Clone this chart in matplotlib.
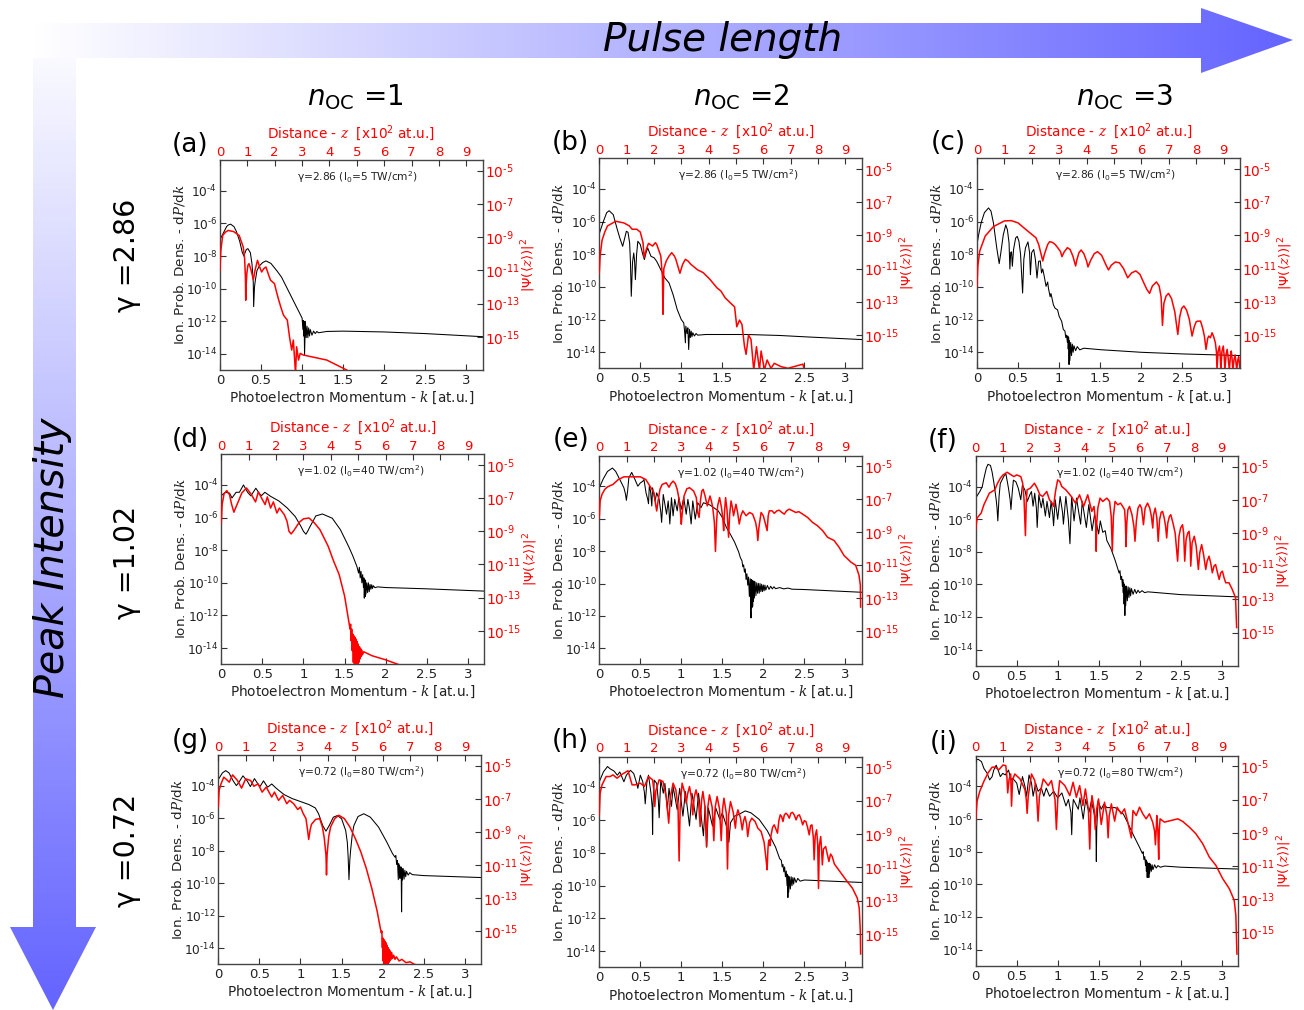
import numpy as np
import matplotlib
matplotlib.use("Agg")
import matplotlib.pyplot as plt
from matplotlib.path import Path
from matplotlib.patches import PathPatch

plt.rcParams['font.family'] = 'DejaVu Sans'
plt.rcParams['mathtext.fontset'] = 'custom'
plt.rcParams['mathtext.rm'] = 'DejaVu Sans'
plt.rcParams['mathtext.it'] = 'DejaVu Serif:italic'
plt.rcParams['mathtext.bf'] = 'DejaVu Sans:bold'

W, H = 1304, 1010

# values are (k, log10 dP/dk) for black and (z, log10 |psi|^2) for red
a_black = [(0,-7.0),(.05,-6.5),(.08,-6.2),(.1,-6.1),(.13,-6.05),(.17,-6.2),(.2,-6.5),(.24,-7.1),(.27,-7.75),(.29,-8.0),(.32,-7.6),(.34,-7.55),(.37,-7.8),(.39,-8.5),(.405,-9.6),(.41,-11.1),(.42,-9.9),(.43,-9.5),(.45,-8.9),(.48,-8.6),(.52,-8.4),(.56,-8.3),(.62,-8.45),(.7,-8.95),(.75,-9.3),(.8,-9.8),(.85,-10.3),(.9,-10.8),(.95,-11.3),(.98,-11.6),(1.0,-11.8),(1.01,-12.5),(1.015,-11.95),(1.02,-12.9),(1.025,-12.0),(1.03,-14.05),(1.04,-12.0),(1.05,-13.0),(1.06,-12.3),(1.07,-13.0),(1.08,-12.4),(1.09,-12.9),(1.1,-12.5),(1.12,-12.85),(1.14,-12.6),(1.16,-12.75),(1.18,-12.62),(1.2,-12.7),(1.3,-12.62),(1.5,-12.6),(2,-12.65),(2.5,-12.75),(3.2,-12.94)]
a_red = [(0,-11.0),(.03,-9.8),(.1,-8.9),(.2,-8.7),(.3,-8.6),(.5,-8.67),(.7,-8.9),(.85,-9.6),(.9,-10.3),(.93,-11.5),(.94,-12.8),(.96,-11.8),(.98,-11.2),(1.02,-10.7),(1.06,-10.6),(1.12,-10.9),(1.22,-11.55),(1.28,-11.0),(1.37,-10.4),(1.45,-10.8),(1.52,-11.1),(1.6,-10.9),(1.68,-10.8),(1.78,-11.3),(1.85,-11.6),(1.99,-11.8),(2.05,-12.2),(2.13,-12.7),(2.22,-13.2),(2.32,-13.7),(2.46,-14.0),(2.54,-15.0),(2.62,-15.8),(2.68,-15.2),(2.76,-17.2),(2.8,-15.6),(2.87,-16.4),(2.93,-16.0),(3.05,-16.1),(3.9,-16.4),(4.63,-17.0)]

b_black = [(0,-6.73),(.05,-5.98),(.09,-5.45),(.12,-5.33),(.17,-5.57),(.22,-6.49),(.25,-7.0),(.285,-7.51),(.31,-7.0),(.33,-6.59),(.35,-6.65),(.37,-7.3),(.38,-8.5),(.39,-10.57),(.405,-8.5),(.42,-7.92),(.43,-8.4),(.44,-9.55),(.455,-8.0),(.47,-7.2),(.5,-7.4),(.53,-8.0),(.55,-8.32),(.57,-7.9),(.59,-7.61),(.63,-8.12),(.67,-8.22),(.7,-8.43),(.75,-8.94),(.8,-9.45),(.85,-9.75),(.9,-10.47),(.95,-11.38),(1,-12.0),(1.03,-12.2),(1.04,-12.7),(1.05,-13.42),(1.055,-12.4),(1.07,-12.85),(1.08,-12.5),(1.09,-13.83),(1.1,-12.6),(1.11,-13.1),(1.12,-12.7),(1.13,-13.05),(1.14,-12.8),(1.16,-13.0),(1.18,-12.85),(1.2,-12.95),(1.3,-12.91),(1.8,-12.91),(2.2,-12.97),(2.5,-13.05),(3.2,-13.22)]
b_red = [(0,-11.25),(.03,-10.24),(.1,-9.3),(.2,-8.8),(.3,-8.43),(.6,-8.15),(.9,-8.25),(1.1,-8.43),(1.2,-8.63),(1.37,-8.63),(1.5,-8.8),(1.6,-9.44),(1.64,-10.34),(1.72,-9.84),(1.8,-9.48),(1.95,-9.64),(2.05,-9.44),(2.1,-9.54),(2.25,-10.24),(2.31,-11.5),(2.33,-13.75),(2.36,-11.0),(2.45,-10.54),(2.55,-10.25),(2.65,-10.04),(2.75,-10.25),(2.8,-10.44),(2.9,-11.0),(2.95,-11.28),(3.0,-11.0),(3.05,-10.74),(3.15,-10.44),(3.25,-10.55),(3.35,-10.74),(3.6,-11.08),(3.8,-11.24),(4.05,-11.65),(4.3,-12.15),(4.45,-12.35),(4.6,-12.75),(4.85,-13.15),(4.95,-13.3),(5.03,-14.5),(5.13,-14.1),(5.22,-14.36),(5.31,-15.66),(5.37,-16.16),(5.46,-15.0),(5.55,-15.26),(5.65,-17.1),(5.75,-15.7),(5.86,-17.1),(5.92,-15.96),(6.04,-17.1),(6.14,-16.5),(6.28,-17.0),(6.4,-16.7),(6.65,-16.9),(6.9,-17.0),(7.45,-16.75),(7.5,-17.1)]

c_black = [(0,-7.4),(.02,-6.8),(.05,-6.08),(.09,-5.45),(.14,-5.16),(.17,-5.35),(.2,-6.08),(.24,-7.6),(.27,-8.57),(.29,-7.9),(.32,-6.8),(.35,-6.2),(.37,-6.5),(.39,-7.3),(.4,-8.9),(.41,-7.88),(.42,-7.85),(.43,-8.73),(.445,-7.7),(.47,-7.0),(.49,-6.9),(.51,-7.2),(.53,-8.0),(.555,-10.37),(.57,-8.3),(.59,-7.6),(.62,-7.24),(.64,-7.9),(.65,-9.25),(.665,-7.9),(.69,-7.7),(.71,-8.3),(.73,-9.45),(.75,-8.43),(.77,-8.4),(.785,-9.14),(.8,-8.9),(.82,-9.4),(.84,-9.96),(.86,-9.7),(.87,-10.1),(.89,-10.6),(.9,-10.4),(.93,-11.1),(.95,-11.3),(.98,-11.4),(1.0,-11.8),(1.03,-12.1),(1.05,-12.6),(1.07,-12.7),(1.08,-13.1),(1.09,-12.95),(1.1,-13.4),(1.105,-13.0),(1.11,-13.8),(1.115,-13.1),(1.12,-14.75),(1.125,-13.3),(1.13,-14.5),(1.14,-13.4),(1.15,-14.2),(1.16,-13.5),(1.17,-14.0),(1.18,-13.6),(1.2,-13.9),(1.22,-13.65),(1.25,-13.85),(1.3,-13.75),(1.5,-13.84),(2,-14.0),(2.5,-14.1),(3.2,-14.2)]
c_red = [(0,-12.05),(.03,-10.84),(.1,-9.94),(.3,-9.04),(.6,-8.47),(1,-8.13),(1.25,-8.11),(1.5,-8.25),(1.7,-8.53),(2,-8.94),(2.15,-9.14),(2.25,-9.54),(2.35,-10.2),(2.4,-10.54),(2.45,-10.2),(2.5,-9.94),(2.58,-9.55),(2.65,-9.38),(2.75,-9.42),(2.85,-9.54),(2.95,-9.75),(3.05,-9.98),(3.1,-10.28),(3.18,-10.0),(3.3,-9.74),(3.4,-9.85),(3.5,-10.25),(3.6,-10.84),(3.65,-10.44),(3.72,-10.05),(3.8,-9.88),(3.9,-10.1),(4.0,-10.54),(4.05,-10.9),(4.15,-10.5),(4.28,-10.1),(4.4,-9.98),(4.55,-10.2),(4.7,-10.75),(4.8,-11.08),(4.9,-10.8),(5.05,-10.6),(5.2,-10.65),(5.35,-11.0),(5.5,-11.55),(5.65,-11.25),(5.8,-11.14),(5.95,-11.35),(6.1,-11.9),(6.2,-12.25),(6.3,-12.49),(6.4,-12.05),(6.55,-11.8),(6.65,-12.05),(6.72,-12.7),(6.77,-14.42),(6.82,-13.1),(6.9,-12.65),(6.99,-12.49),(7.1,-12.8),(7.22,-13.6),(7.33,-14.96),(7.4,-13.9),(7.47,-13.4),(7.55,-13.25),(7.65,-13.5),(7.75,-14.05),(7.85,-15.06),(7.93,-14.5),(8.0,-14.2),(8.06,-14.16),(8.16,-14.16),(8.24,-14.6),(8.3,-15.06),(8.36,-15.86),(8.42,-15.2),(8.46,-15.06),(8.52,-15.16),(8.58,-14.86),(8.64,-15.1),(8.7,-15.46),(8.74,-16.0),(8.76,-17.1),(8.8,-16.0),(8.85,-15.66),(8.88,-16.2),(8.9,-17.1),(8.94,-16.0),(8.99,-15.66),(9.02,-16.2),(9.05,-17.1),(9.09,-16.2),(9.13,-15.86),(9.17,-16.4),(9.21,-17.1),(9.25,-16.3),(9.28,-15.96),(9.31,-16.4),(9.34,-17.1),(9.38,-16.5),(9.42,-16.2),(9.45,-16.6),(9.48,-17.1),(9.52,-16.5),(9.55,-16.3),(9.58,-16.7),(9.6,-17.1)]

d_black = [(0,-4.65),(.05,-4.45),(.1,-4.5),(.13,-4.8),(.18,-4.45),(.22,-4.45),(.27,-4.0),(.32,-4.45),(.36,-4.67),(.42,-4.2),(.47,-4.57),(.49,-4.65),(.53,-4.45),(.6,-4.7),(.7,-4.98),(.8,-5.4),(.9,-5.94),(.97,-6.55),(1.0,-6.85),(1.03,-7.02),(1.05,-6.85),(1.08,-6.55),(1.15,-5.9),(1.23,-5.78),(1.35,-6.04),(1.45,-6.75),(1.55,-7.78),(1.6,-8.35),(1.65,-9.0),(1.67,-9.4),(1.68,-9.05),(1.69,-9.7),(1.7,-9.3),(1.71,-10.0),(1.72,-9.5),(1.73,-10.3),(1.735,-9.7),(1.74,-10.94),(1.745,-9.8),(1.75,-10.85),(1.755,-9.85),(1.76,-10.7),(1.77,-10.0),(1.78,-10.6),(1.79,-10.0),(1.8,-10.55),(1.81,-10.1),(1.82,-10.4),(1.83,-10.12),(1.84,-10.35),(1.85,-10.18),(1.87,-10.3),(1.9,-10.25),(2,-10.29),(2.5,-10.37),(3.2,-10.51)]
d_red = [(0,-8.49),(.03,-7.39),(.1,-6.75),(.2,-6.55),(.3,-6.8),(.38,-7.4),(.46,-7.85),(.52,-7.6),(.6,-7.29),(.75,-6.69),(.92,-6.39),(1.1,-6.79),(1.25,-7.23),(1.35,-6.63),(1.5,-7.09),(1.6,-7.39),(1.68,-6.93),(1.8,-7.6),(1.9,-7.23),(2.03,-7.9),(2.12,-7.6),(2.3,-8.0),(2.4,-8.4),(2.47,-9.0),(2.55,-9.16),(2.65,-8.95),(2.75,-8.7),(2.85,-8.45),(3,-8.25),(3.2,-8.2),(3.4,-8.5),(3.6,-8.9),(3.9,-9.9),(4.1,-10.8),(4.3,-11.6),(4.5,-12.9),(4.65,-14.4),(4.7,-14.9),(4.72,-14.6),(4.74,-15.6),(4.76,-14.9),(4.78,-16.2),(4.8,-15.2),(4.82,-16.9),(4.84,-15.3),(4.86,-17.05),(4.88,-15.4),(4.9,-17.05),(4.92,-15.5),(4.94,-17.05),(4.96,-15.65),(4.98,-17.05),(5.0,-15.8),(5.02,-16.9),(5.04,-15.95),(5.06,-16.7),(5.08,-16.05),(5.1,-16.55),(5.12,-16.15),(5.15,-16.45),(5.2,-16.26),(5.5,-16.5),(6,-16.75),(6.5,-17.05)]

e_black = [(0,-4.1),(.05,-3.53),(.1,-3.09),(.16,-2.88),(.2,-3.09),(.25,-3.59),(.3,-4.1),(.32,-4.5),(.33,-4.87),(.345,-4.3),(.36,-3.49),(.395,-3.15),(.43,-3.53),(.47,-4),(.5,-3.8),(.53,-3.7),(.545,-3.59),(.57,-4.41),(.59,-4.8),(.6,-5.08),(.61,-4),(.625,-4.3),(.64,-5.22),(.65,-4.1),(.68,-4.91),(.7,-4.41),(.73,-4.81),(.75,-5.6),(.76,-6.23),(.78,-4.51),(.82,-5.73),(.84,-4.91),(.85,-5.5),(.86,-6.33),(.88,-4.71),(.9,-5.83),(.92,-4.81),(.95,-5.52),(.97,-4.71),(1,-5.42),(1.03,-4.71),(1.06,-5.73),(1.08,-4.81),(1.1,-5.4),(1.12,-6.33),(1.14,-4.91),(1.17,-6.03),(1.2,-5.02),(1.24,-5.32),(1.27,-5.02),(1.35,-5.16),(1.45,-5.52),(1.5,-5.93),(1.55,-6.54),(1.6,-6.98),(1.65,-7.45),(1.7,-8.06),(1.72,-8.4),(1.74,-8.6),(1.75,-8.97),(1.76,-8.85),(1.77,-9.3),(1.78,-9.1),(1.79,-9.75),(1.8,-9.4),(1.81,-10.1),(1.82,-9.6),(1.83,-10.8),(1.84,-9.7),(1.845,-11.2),(1.85,-12.12),(1.855,-9.75),(1.86,-11.5),(1.865,-9.8),(1.87,-11.41),(1.875,-9.85),(1.88,-11.1),(1.885,-9.85),(1.89,-10.9),(1.9,-9.9),(1.91,-10.75),(1.92,-9.95),(1.93,-10.6),(1.94,-9.99),(1.95,-10.6),(1.96,-10.0),(1.97,-10.5),(1.98,-10.05),(1.99,-10.5),(2,-10.09),(2.01,-10.45),(2.02,-10.1),(2.03,-10.4),(2.05,-10.12),(2.07,-10.36),(2.09,-10.17),(2.11,-10.33),(2.13,-10.2),(2.15,-10.32),(2.2,-10.25),(2.25,-10.33),(2.3,-10.28),(2.35,-10.35),(2.5,-10.37),(3.2,-10.54)]
e_red = [(0,-8.11),(.03,-7.1),(.1,-6.7),(.2,-6.4),(.3,-6.25),(.5,-6.1),(.7,-5.8),(.9,-5.64),(1.2,-5.64),(1.5,-5.64),(1.7,-5.8),(1.85,-6.2),(2,-6.6),(2.05,-7.2),(2.1,-7.71),(2.15,-7.1),(2.22,-6.4),(2.3,-6.1),(2.45,-6.0),(2.55,-6.27),(2.62,-6.05),(2.7,-5.9),(2.78,-6.05),(2.85,-6.4),(2.92,-7.0),(2.97,-7.8),(3,-8.51),(3.03,-7.9),(3.1,-6.8),(3.2,-6.37),(3.3,-6.3),(3.45,-6.5),(3.55,-6.9),(3.6,-7.8),(3.65,-8.1),(3.7,-7.1),(3.75,-6.5),(3.8,-6.4),(3.87,-6.8),(3.95,-7.4),(4.05,-6.8),(4.1,-7.1),(4.15,-7.5),(4.21,-8.4),(4.25,-10.16),(4.29,-8.4),(4.33,-7.4),(4.4,-6.9),(4.47,-7.5),(4.52,-8.2),(4.55,-8.9),(4.58,-7.8),(4.62,-6.9),(4.67,-7.6),(4.73,-9.3),(4.77,-7.9),(4.82,-7.1),(4.87,-7.5),(4.91,-8.0),(5,-7.3),(5.06,-7.8),(5.12,-8.5),(5.18,-8.0),(5.25,-7.7),(5.37,-8),(5.5,-7.8),(5.61,-7.9),(5.72,-8.4),(5.77,-8.9),(5.8,-9.5),(5.84,-8.7),(5.92,-7.8),(6.0,-8.0),(6.08,-8.5),(6.14,-8.9),(6.18,-8.0),(6.22,-7.7),(6.32,-7.7),(6.4,-7.85),(6.5,-7.7),(6.58,-7.66),(6.68,-7.8),(6.77,-7.9),(6.85,-7.7),(6.95,-7.6),(7.07,-7.7),(7.19,-7.8),(7.3,-7.75),(7.44,-7.9),(7.62,-8.1),(7.8,-8.4),(7.98,-8.6),(8.17,-8.9),(8.35,-9.3),(8.59,-9.5),(8.77,-9.9),(8.95,-10.4),(9.2,-10.8),(9.38,-11.0),(9.5,-11.6),(9.55,-12.2),(9.56,-13.53)]

f_black = [(0,-4.7),(.05,-4.3),(.08,-4.0),(.1,-3.5),(.13,-2.85),(.15,-2.63),(.18,-2.7),(.2,-3.1),(.22,-3.7),(.25,-4.8),(.26,-5.3),(.27,-6.1),(.285,-4.6),(.3,-3.8),(.35,-3.3),(.37,-3.25),(.4,-4.1),(.42,-4.8),(.43,-5.4),(.445,-4.4),(.46,-3.6),(.49,-3.7),(.52,-4.1),(.55,-4.8),(.57,-3.9),(.6,-4.2),(.63,-4.9),(.66,-4.5),(.68,-4.3),(.7,-5.2),(.72,-4.4),(.74,-5.3),(.75,-6.5),(.77,-4.5),(.8,-5.3),(.82,-4.7),(.85,-5.8),(.87,-4.9),(.9,-5.9),(.92,-4.9),(.94,-5.7),(.95,-6.4),(.97,-4.8),(1,-6.0),(1.03,-4.6),(1.06,-5.6),(1.07,-6.3),(1.1,-4.6),(1.13,-6.0),(1.15,-7.5),(1.17,-4.6),(1.2,-6.1),(1.23,-4.7),(1.28,-6.3),(1.3,-4.9),(1.35,-6.5),(1.38,-5.1),(1.42,-6.7),(1.45,-5.7),(1.5,-6.9),(1.52,-6.1),(1.55,-6.8),(1.58,-6.7),(1.6,-7.3),(1.65,-7.8),(1.7,-8.5),(1.75,-9.3),(1.76,-9.15),(1.77,-9.7),(1.78,-9.5),(1.79,-10.1),(1.795,-9.7),(1.8,-10.5),(1.805,-9.9),(1.81,-11.2),(1.815,-10.0),(1.82,-11.9),(1.825,-10.1),(1.83,-11.3),(1.84,-10.1),(1.85,-11.0),(1.86,-10.15),(1.87,-10.8),(1.88,-10.2),(1.89,-10.7),(1.9,-10.25),(1.92,-10.6),(1.94,-10.3),(1.96,-10.55),(1.98,-10.35),(2,-10.5),(2.03,-10.38),(2.06,-10.5),(2.1,-10.45),(2.5,-10.62),(3.2,-10.76)]
f_red = [(0,-8.8),(.05,-8.1),(.2,-7.8),(.3,-7.3),(.5,-6.6),(.7,-6.4),(.8,-6.0),(.9,-5.7),(1,-5.5),(1.15,-5.34),(1.3,-5.5),(1.4,-5.6),(1.5,-5.5),(1.65,-5.6),(1.72,-6.0),(1.77,-7.0),(1.82,-9.16),(1.85,-7.2),(1.88,-6.4),(2,-6.3),(2.15,-6.0),(2.25,-6.3),(2.35,-6.7),(2.45,-6.8),(2.6,-6.5),(2.7,-7.0),(2.8,-7.2),(2.85,-7.4),(2.92,-6.5),(3,-5.8),(3.08,-5.9),(3.15,-6.2),(3.3,-6.4),(3.5,-6.8),(3.65,-7.2),(3.8,-6.7),(3.95,-7.4),(4.1,-6.7),(4.25,-7.7),(4.33,-7.4),(4.39,-8.4),(4.41,-10.1),(4.43,-8.4),(4.47,-7.5),(4.55,-6.9),(4.65,-7.1),(4.8,-6.9),(4.9,-7.1),(4.96,-8.0),(5,-10.1),(5.04,-8.0),(5.1,-7.1),(5.2,-7.3),(5.3,-7.2),(5.38,-7.4),(5.45,-7.6),(5.48,-8.4),(5.5,-9.82),(5.53,-8.4),(5.57,-7.6),(5.63,-7.4),(5.72,-7.9),(5.79,-8.6),(5.83,-9.5),(5.88,-8.3),(5.94,-7.5),(6.01,-7.3),(6.07,-7.5),(6.14,-8.5),(6.2,-7.5),(6.29,-7.2),(6.37,-7.5),(6.43,-8.0),(6.48,-8.7),(6.51,-7.9),(6.57,-7.5),(6.63,-8.1),(6.68,-9.5),(6.73,-8.2),(6.79,-7.75),(6.84,-7.7),(6.9,-8.1),(6.95,-8.6),(6.99,-9.3),(7.03,-8.4),(7.09,-8.0),(7.14,-7.9),(7.22,-8.4),(7.3,-9.0),(7.39,-10.7),(7.44,-9.2),(7.5,-8.7),(7.57,-8.5),(7.61,-9.0),(7.65,-10.7),(7.7,-9.4),(7.76,-9.0),(7.81,-8.9),(7.85,-9.6),(7.87,-11.0),(7.92,-9.6),(8,-9.2),(8.07,-9.8),(8.15,-11.2),(8.2,-10.2),(8.27,-9.7),(8.34,-10.3),(8.42,-11.2),(8.47,-10.7),(8.54,-10.4),(8.6,-10.8),(8.66,-11.4),(8.72,-11.0),(8.78,-10.9),(8.85,-11.4),(8.91,-11.8),(8.97,-11.4),(9.03,-11.3),(9.09,-11.7),(9.15,-12.0),(9.27,-12.0),(9.39,-12.4),(9.51,-12.9),(9.55,-14.7)]

g_black = [(0,-3.63),(.05,-3.22),(.09,-3.08),(.13,-3.22),(.18,-3.7),(.22,-4),(.25,-3.8),(.3,-3.4),(.35,-3.7),(.39,-4.06),(.44,-3.57),(.49,-3.96),(.51,-4.04),(.55,-3.71),(.6,-4.1),(.65,-3.9),(.7,-4.14),(.75,-4.35),(.8,-4.55),(.9,-4.8),(1,-4.98),(1.1,-5.16),(1.18,-5.37),(1.22,-5.73),(1.27,-6.45),(1.31,-6.8),(1.35,-6.45),(1.4,-5.94),(1.45,-5.84),(1.5,-6.04),(1.55,-6.76),(1.57,-7.5),(1.58,-8.39),(1.59,-9.78),(1.6,-8.6),(1.61,-7.98),(1.63,-7.0),(1.65,-6.45),(1.7,-5.9),(1.77,-5.73),(1.85,-5.94),(1.95,-6.55),(2.05,-7.47),(2.12,-8.18),(2.15,-8.4),(2.16,-8.3),(2.17,-8.85),(2.18,-8.6),(2.19,-9.78),(2.195,-8.8),(2.2,-9.4),(2.205,-8.9),(2.21,-9.7),(2.215,-9.0),(2.22,-9.5),(2.225,-9.0),(2.23,-11.76),(2.235,-9.1),(2.24,-9.8),(2.25,-9.1),(2.26,-9.75),(2.27,-9.2),(2.28,-9.6),(2.29,-9.27),(2.31,-9.5),(2.33,-9.35),(2.36,-9.47),(2.5,-9.53),(3.2,-9.65)]
g_red = [(0,-7.5),(.03,-6.5),(.1,-6.1),(.2,-5.7),(.3,-5.84),(.4,-6),(.52,-5.56),(.7,-5.9),(.85,-6.36),(1,-5.8),(1.18,-5.9),(1.3,-6.25),(1.45,-6.1),(1.6,-6.6),(1.75,-6.3),(1.95,-6.9),(2.05,-6.6),(2.2,-7.1),(2.35,-6.8),(2.5,-7.3),(2.6,-7.1),(2.75,-7.3),(2.9,-7.65),(3,-7.5),(3.1,-7.9),(3.2,-8.2),(3.25,-8.8),(3.3,-9.46),(3.35,-8.9),(3.4,-8.55),(3.55,-8.25),(3.7,-8.2),(3.8,-8.7),(3.87,-9.4),(3.93,-10.4),(3.95,-11.6),(3.97,-10.4),(4.03,-9.3),(4.1,-8.7),(4.25,-8.2),(4.4,-8),(4.6,-8.2),(4.8,-8.7),(5,-9.4),(5.2,-10.2),(5.4,-11.2),(5.6,-12.4),(5.8,-13.8),(5.9,-14.7),(5.95,-15.1),(5.97,-15.0),(5.99,-16.0),(6,-15.4),(6.02,-16.8),(6.04,-15.5),(6.06,-17),(6.08,-15.6),(6.1,-17),(6.12,-15.7),(6.14,-17),(6.16,-15.85),(6.18,-17),(6.2,-16.0),(6.22,-16.9),(6.24,-16.1),(6.26,-16.8),(6.28,-16.2),(6.3,-16.7),(6.33,-16.3),(6.36,-16.65),(6.4,-16.45),(6.45,-16.7),(6.5,-16.55),(6.6,-16.8),(6.7,-16.7),(6.85,-16.9),(7,-16.85),(7.15,-17.0),(7.3,-17.05)]

h_black = [(0,-3.65),(.05,-3.05),(.1,-2.72),(.13,-2.85),(.18,-3.0),(.22,-3.25),(.25,-3.05),(.3,-3.65),(.33,-3.25),(.38,-2.95),(.42,-3.15),(.45,-3.65),(.47,-4.05),(.5,-3.25),(.53,-3.65),(.55,-4.3),(.56,-5.0),(.58,-3.7),(.6,-3.25),(.63,-4.35),(.645,-5.2),(.65,-6.86),(.655,-5.0),(.67,-3.55),(.7,-3.75),(.72,-4.8),(.73,-5.85),(.74,-4.6),(.75,-3.55),(.78,-4.35),(.8,-3.75),(.83,-5.35),(.85,-4.05),(.88,-5.15),(.9,-3.95),(.95,-5.35),(.98,-4.05),(1.02,-5.75),(1.05,-4.25),(1.1,-6.35),(1.13,-4.35),(1.18,-5.95),(1.21,-4.35),(1.27,-6.95),(1.29,-5.15),(1.31,-7.65),(1.33,-5.25),(1.38,-6.35),(1.42,-5.25),(1.47,-5.95),(1.5,-5.55),(1.55,-6.35),(1.58,-7.35),(1.6,-6.15),(1.65,-5.75),(1.7,-5.65),(1.78,-5.43),(1.85,-5.55),(1.95,-5.95),(2.05,-6.65),(2.15,-7.65),(2.2,-8.35),(2.22,-8.45),(2.23,-8.85),(2.24,-8.7),(2.25,-9.15),(2.26,-8.85),(2.27,-9.45),(2.28,-9.1),(2.29,-10.0),(2.295,-9.3),(2.3,-10.72),(2.305,-9.4),(2.31,-10.4),(2.32,-9.45),(2.33,-10.2),(2.34,-9.45),(2.35,-10.0),(2.36,-9.5),(2.37,-9.9),(2.38,-9.52),(2.4,-9.8),(2.42,-9.55),(2.45,-9.72),(2.5,-9.65),(3.2,-9.8)]
h_red = [(0,-7.85),(.03,-6.55),(.1,-6.05),(.25,-5.55),(.4,-5.55),(.5,-5.45),(.65,-5.65),(.8,-5.45),(1,-5.25),(1.05,-5.2),(1.2,-6.05),(1.3,-6.05),(1.5,-5.95),(1.65,-6.15),(1.8,-5.55),(1.95,-5.75),(2.0,-6.4),(2.03,-7.35),(2.07,-6.4),(2.19,-5.75),(2.33,-5.85),(2.45,-6.8),(2.54,-8.35),(2.6,-6.8),(2.7,-5.95),(2.8,-6.35),(2.88,-7.4),(2.92,-10.62),(2.96,-7.3),(3.03,-5.95),(3.12,-6.5),(3.18,-7.15),(3.23,-6.6),(3.3,-6.15),(3.37,-6.8),(3.42,-7.85),(3.47,-6.8),(3.54,-6.35),(3.63,-7.0),(3.69,-8.55),(3.74,-7.0),(3.79,-6.45),(3.87,-7.4),(3.92,-9.75),(3.97,-7.4),(4.03,-6.65),(4.13,-7.4),(4.19,-9.4),(4.24,-7.4),(4.31,-6.75),(4.4,-7.5),(4.46,-9.4),(4.51,-7.5),(4.56,-6.85),(4.65,-7.8),(4.69,-11.1),(4.73,-7.9),(4.8,-7.05),(4.9,-7.7),(4.98,-8.65),(5.02,-7.9),(5.07,-7.55),(5.16,-8.0),(5.23,-8.75),(5.28,-8.2),(5.33,-7.95),(5.39,-8.4),(5.43,-9.15),(5.5,-8.3),(5.58,-8.05),(5.7,-8.25),(5.8,-8.65),(5.92,-8.85),(6.03,-9.5),(6.1,-10.5),(6.14,-11.15),(6.17,-9.9),(6.19,-9.5),(6.22,-9.35),(6.25,-9.7),(6.28,-9.1),(6.34,-8.6),(6.4,-8.45),(6.46,-8.7),(6.52,-8.95),(6.57,-8.2),(6.62,-7.85),(6.67,-7.95),(6.72,-8.25),(6.77,-7.85),(6.83,-7.75),(6.89,-7.85),(6.95,-8.05),(7.01,-7.75),(7.07,-7.7),(7.13,-7.85),(7.2,-8.15),(7.26,-7.9),(7.32,-7.85),(7.38,-8.1),(7.44,-8.45),(7.5,-8.2),(7.56,-8.25),(7.62,-8.6),(7.68,-9.05),(7.73,-8.5),(7.78,-8.45),(7.83,-9.2),(7.86,-10.55),(7.9,-9.1),(7.95,-8.75),(7.99,-9.6),(8.02,-12.27),(8.05,-9.7),(8.1,-9.15),(8.13,-9.9),(8.16,-10.85),(8.2,-9.9),(8.28,-9.75),(8.34,-10.2),(8.4,-10.65),(8.46,-10.2),(8.52,-10.35),(8.6,-10.8),(8.71,-11.05),(8.89,-11.45),(9.07,-11.85),(9.26,-12.25),(9.44,-12.85),(9.51,-13.45),(9.55,-14.85),(9.56,-16.2)]

i_black = [(0,-2.38),(.03,-2.34),(.07,-2.48),(.1,-2.9),(.14,-3.2),(.17,-3.6),(.2,-3.4),(.22,-3.0),(.25,-2.7),(.28,-3.1),(.3,-3.4),(.33,-3.2),(.36,-3.3),(.4,-3.0),(.43,-3.6),(.45,-3.5),(.5,-3.8),(.53,-4.5),(.57,-3.4),(.6,-4),(.62,-4.6),(.65,-3.3),(.68,-3.8),(.7,-4.6),(.73,-3.8),(.76,-4.3),(.8,-4.1),(.83,-4.6),(.86,-4.1),(.9,-4.6),(.95,-4.3),(1,-4.7),(1.05,-4.4),(1.1,-5.2),(1.13,-4.8),(1.16,-5.6),(1.17,-6.96),(1.18,-5.4),(1.19,-4.8),(1.25,-5.4),(1.27,-4.7),(1.31,-6),(1.34,-4.8),(1.38,-5.6),(1.41,-4.9),(1.45,-5.8),(1.465,-6.6),(1.47,-8.6),(1.475,-6.6),(1.49,-4.9),(1.53,-5.4),(1.56,-5.1),(1.6,-5.3),(1.7,-5.3),(1.8,-5.7),(1.85,-6.2),(1.92,-6.96),(2,-7.77),(2.03,-8.1),(2.04,-8.0),(2.05,-8.48),(2.06,-8.3),(2.07,-8.85),(2.075,-8.5),(2.08,-9.2),(2.085,-8.6),(2.09,-9.58),(2.095,-8.7),(2.1,-9.5),(2.105,-8.75),(2.11,-9.58),(2.115,-8.7),(2.12,-9.3),(2.13,-8.75),(2.14,-9.2),(2.15,-8.8),(2.16,-9.1),(2.18,-8.8),(2.2,-9.0),(2.22,-8.85),(2.25,-8.95),(2.3,-8.88),(2.5,-8.95),(3,-9.03),(3.2,-9.06)]
i_red = [(0,-8.2),(.05,-7.1),(.15,-6.5),(.3,-5.9),(.45,-5.4),(.6,-5.05),(.7,-5.05),(.85,-5.2),(1,-4.92),(1.1,-4.96),(1.14,-5.6),(1.17,-6.6),(1.22,-5.8),(1.28,-5.46),(1.31,-7.4),(1.35,-5.8),(1.43,-5.46),(1.62,-5.76),(1.8,-6.4),(1.85,-7.0),(1.88,-7.83),(1.92,-6.8),(2.04,-5.46),(2.16,-5.86),(2.23,-6.8),(2.28,-8.3),(2.33,-6.8),(2.47,-5.76),(2.65,-6.16),(2.77,-5.86),(2.9,-7.0),(2.95,-8.8),(3.0,-7.0),(3.07,-5.86),(3.26,-6.16),(3.44,-6.76),(3.56,-5.96),(3.68,-6.86),(3.8,-6.16),(3.92,-7.36),(4.01,-6.36),(4.12,-7.6),(4.17,-9.98),(4.21,-7.6),(4.25,-6.76),(4.33,-7.6),(4.37,-8.8),(4.42,-7.6),(4.49,-6.96),(4.59,-8.5),(4.71,-7.16),(4.8,-8.0),(4.84,-9.3),(4.88,-8.0),(4.96,-7.26),(5.08,-8.3),(5.17,-7.46),(5.32,-7.86),(5.44,-7.56),(5.56,-8.36),(5.69,-9.3),(5.75,-7.66),(5.87,-7.96),(5.99,-7.46),(6.11,-7.86),(6.23,-8.16),(6.35,-7.86),(6.47,-8.36),(6.54,-8.9),(6.57,-9.72),(6.6,-8.8),(6.62,-7.96),(6.66,-8.9),(6.69,-10.6),(6.71,-8.9),(6.74,-8.16),(6.9,-8.36),(7.14,-8.26),(7.39,-8.16),(7.57,-8.32),(7.81,-8.66),(8.05,-9.06),(8.3,-9.66),(8.54,-10.46),(8.78,-10.96),(9.03,-11.76),(9.27,-12.36),(9.45,-13.06),(9.51,-13.96),(9.55,-16.3)]

black_series = [a_black, b_black, c_black, d_black, e_black, f_black, g_black, h_black, i_black]
red_series = [a_red, b_red, c_red, d_red, e_red, f_red, g_red, h_red, i_red]

letters = ['a', 'b', 'c', 'd', 'e', 'f', 'g', 'h', 'i']
panel_titles = ['γ=2.86 (I$_0$=5 TW/cm$^2$)'] * 3 + ['γ=1.02 (I$_0$=40 TW/cm$^2$)'] * 3 + ['γ=0.72 (I$_0$=80 TW/cm$^2$)'] * 3
left_exp = [-14, -12, -10, -8, -6, -4]
right_exp = [-15, -13, -11, -9, -7, -5]
k_ticks = [0, 0.5, 1, 1.5, 2, 2.5, 3]
k_labels = ['0', '0.5', '1', '1.5', '2', '2.5', '3']
z_ticks = [0, 1, 2, 3, 4, 5, 6, 7, 8, 9]
col_labels = [1, 2, 3]
gamma_labels = ['2.86', '1.02', '0.72']

# axes boxes in pixels: x0, x1, top, bottom
boxes = [(220, 482.7, 160, 370), (599.3, 861.7, 158.3, 368.3), (977, 1240, 158.3, 368.3),
         (221.3, 484.3, 454.3, 664), (599.3, 861.7, 455.7, 664.3), (975.7, 1238, 456, 665.7),
         (218.3, 481.3, 755, 964.3), (599.3, 861.7, 756.7, 967.3), (975.7, 1238.3, 755.7, 965.7)]
letter_pos = [(190, 145), (570.7, 143), (948, 143), (190, 440), (570.7, 440), (943, 441), (190.7, 741), (570.7, 741), (944, 743)]
title_x = [357, 738, 1115, 361, 741, 1120, 361.7, 743, 1120]
col_x = [355, 741, 1124]
gamma_y = [255, 562, 850]

fig = plt.figure(figsize=(W / 100, H / 100), dpi=100)
bg = fig.add_axes([0, 0, 1, 1])
bg.set_xlim(0, W)
bg.set_ylim(H, 0)
bg.axis('off')


def px(x, y):
    return x / W, 1 - y / H


def gradient(horizontal):
    n = 256
    t = np.linspace(0, 1, n)
    img = np.ones((n, 1, 3)) if not horizontal else np.ones((1, n, 3))
    shape = (1, n) if horizontal else (n, 1)
    img[..., 0] = (1 - t * 155 / 255).reshape(shape)
    img[..., 1] = (1 - t * 155 / 255).reshape(shape)
    return img


# the two big arrows
im = bg.imshow(gradient(False), extent=(10, 96, 1010, 23), aspect='auto', zorder=1, interpolation='bilinear')
verts = [(33, 23), (76, 23), (76, 927), (96, 927), (53, 1010), (10, 927), (33, 927), (33, 23)]
im.set_clip_path(PathPatch(Path(verts), transform=bg.transData))
im2 = bg.imshow(gradient(True), extent=(33, 1293, 73, 8), aspect='auto', zorder=2, interpolation='bilinear')
verts = [(33, 23), (1201, 23), (1201, 8), (1293, 40), (1201, 73), (1201, 58), (33, 58), (33, 23)]
im2.set_clip_path(PathPatch(Path(verts), transform=bg.transData))
bg.set_xlim(0, W)
bg.set_ylim(H, 0)

fig.text(*px(723, 40), 'Pulse length', fontsize=28, style='oblique', ha='center', va='center')
fig.text(*px(53, 558), 'Peak Intensity', fontsize=28.5, style='oblique', rotation=90, ha='center', va='center')

for n, x in zip(col_labels, col_x):
    fig.text(*px(x, 97), r'$n_{\mathrm{OC}}$ =%d' % n, fontsize=20, ha='center', va='center', math_fontfamily='dejavusans')
for g, y in zip(gamma_labels, gamma_y):
    fig.text(*px(127, y), 'γ =' + g, fontsize=20.5, rotation=90, ha='center', va='center')

for i in range(9):
    x0, x1, top, bottom = boxes[i]
    rect = [x0 / W, 1 - bottom / H, (x1 - x0) / W, (bottom - top) / H]
    ax = fig.add_axes(rect)
    ax.patch.set_alpha(0)
    k, p = np.array(black_series[i]).T
    ax.plot(k, 10.0 ** p, color='black', lw=0.75)
    ax.set_xlim(0, 3.2)
    ax.set_yscale('log')
    ax.set_ylim(10.0 ** -14.98, 10.0 ** -2.12)
    ax.set_xticks(k_ticks)
    ax.set_xticklabels(k_labels)
    ax.set_yticks([10.0 ** e for e in left_exp])
    ax.set_yticklabels([r'$10^{\text{-}%d}$' % -e for e in left_exp])
    ax.minorticks_off()
    ax.tick_params(direction='in', length=4, width=0.8, color='#333333', labelsize=9.5, pad=3, labelcolor='#222222')
    ax.tick_params(axis='y', labelsize=8.8, pad=2)
    ax.set_xlabel(r'Photoelectron Momentum - $k$ [at.u.]', fontsize=9.8, color='#222222')
    ax.xaxis.set_label_coords(0.5, -0.095)
    ax.set_ylabel(r'Ion. Prob. Dens. - d$P$/d$k$', fontsize=9.7, color='#222222')
    ax.yaxis.set_label_coords(-0.125, 0.5)
    for s in ax.spines.values():
        s.set_color('#444444')
        s.set_linewidth(1.0)

    axr = fig.add_axes(rect, frameon=False)
    z, w = np.array(red_series[i]).T
    axr.plot(z, 10.0 ** w, color='red', lw=1.1)
    axr.set_xlim(0, 9.6)
    axr.set_yscale('log')
    axr.set_ylim(10.0 ** -17.0, 10.0 ** -4.36)
    axr.xaxis.tick_top()
    axr.yaxis.tick_right()
    axr.set_xticks(z_ticks)
    axr.set_yticks([10.0 ** e for e in right_exp])
    axr.set_yticklabels([r'$10^{\text{-}%d}$' % -e for e in right_exp])
    axr.minorticks_off()
    axr.tick_params(direction='in', length=4, width=0.8, color='#333333', labelcolor='red', labelsize=9.5, pad=1)
    axr.tick_params(axis='y', labelsize=10, pad=1.5)
    axr.xaxis.set_label_position('top')
    axr.yaxis.set_label_position('right')
    axr.set_xlabel(r'Distance - $z$  [x10$^2$ at.u.]', fontsize=9.85, color='red')
    axr.xaxis.set_label_coords(0.5, 1.105)
    axr.set_ylabel(r'|Ψ($\langle z\rangle$)|$^2$', fontsize=9.5, color='red')
    axr.yaxis.set_label_coords(1.14, 0.5)

    fig.text(*px(title_x[i], top + 17), panel_titles[i], fontsize=7.7, ha='center', va='center', color='#222222')
    fig.text(*px(*letter_pos[i]), '(%s)' % letters[i], fontsize=19, ha='center', va='center')

fig.savefig('out.png', dpi=100)
